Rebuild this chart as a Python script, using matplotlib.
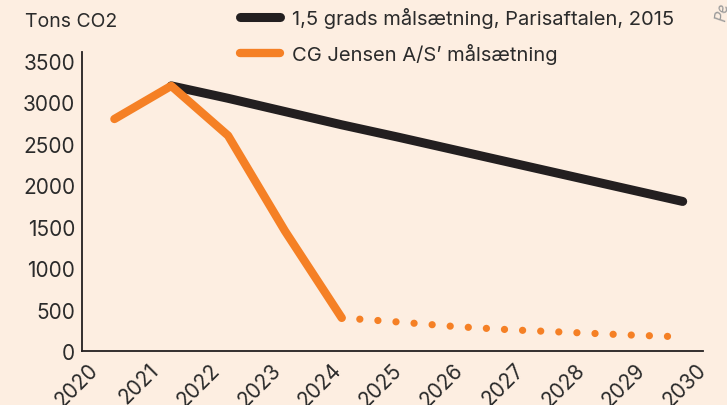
import numpy as np
import matplotlib
matplotlib.use("Agg")
import matplotlib.pyplot as plt

plt.rcParams['font.family'] = ['Inter', 'DejaVu Sans']

# data
years = [2020, 2021, 2022, 2023, 2024, 2025, 2026, 2027, 2028, 2029, 2030]
paris_years = [2021, 2022, 2023, 2024, 2025, 2026, 2027, 2028, 2029, 2030]
paris = [3200, 3050, 2890, 2730, 2580, 2425, 2270, 2115, 1960, 1805]
cg_years = [2020, 2021, 2022, 2023, 2024]
cg = [2800, 3200, 2600, 1450, 400]
cg_plan_years = [2024, 2025, 2026, 2027, 2028, 2029, 2030]
cg_plan = [400, 350, 295, 255, 225, 195, 170]
yticks = [0, 500, 1000, 1500, 2000, 2500, 3000, 3500]

bg = '#fdeee1'
black = '#231f20'
orange = '#f58025'
textc = '#2b2b2b'

fig = plt.figure(figsize=(7.27, 4.06), dpi=100, facecolor=bg)
ax = fig.add_axes([0.1128, 0.133, 0.854, 0.7365])
ax.set_facecolor(bg)

ax.plot(paris_years, paris, color=black, lw=6.5, solid_capstyle='round',
        solid_joinstyle='round', label='1,5 grads målsætning, Parisaftalen, 2015', zorder=2)
ax.plot(cg_years, cg, color=orange, lw=6.0, solid_capstyle='round',
        solid_joinstyle='round', label='CG Jensen A/S\u2019 målsætning', zorder=3)
ax.plot(cg_plan_years, cg_plan, color=orange, lw=5.2, linestyle=(0, (0.01, 2.5)),
        dash_capstyle='round', zorder=3)

ax.set_xlim(2019.43, 2030.18)
ax.set_ylim(0, 3609)

ax.set_yticks(yticks)
ax.set_yticklabels([str(v) for v in yticks])
# year labels sit on their own spacing, not under the data points
tick_pos = 2019.655 + (np.array(years) - 2020) * 1.07
ax.set_xticks(tick_pos)
ax.set_xticklabels([str(y) for y in years], rotation=45, ha='right', va='center',
                   rotation_mode='anchor')
ax.tick_params(axis='both', length=0, labelsize=15, colors=textc)
ax.tick_params(axis='y', pad=5)
ax.tick_params(axis='x', pad=11)

for s in ['top', 'right']:
    ax.spines[s].set_visible(False)
for s in ['left', 'bottom']:
    ax.spines[s].set_color(black)
    ax.spines[s].set_linewidth(1.3)

fig.text(25 / 727, 1 - 27 / 406, 'Tons CO2', fontsize=14, color=textc, va='baseline')

leg = fig.legend(loc='upper left', bbox_to_anchor=(232 / 727, 1.0), frameon=False,
                 fontsize=14.5, handlelength=2.0, handletextpad=0.6, labelspacing=0.75,
                 borderaxespad=0)
for t in leg.get_texts():
    t.set_color(textc)

fig.text(0.982, 0.995, 'Pe', rotation=80, color='#999999', style='italic',
         fontsize=11, ha='left', va='top')

fig.savefig('out.png', dpi=100, facecolor=bg)
